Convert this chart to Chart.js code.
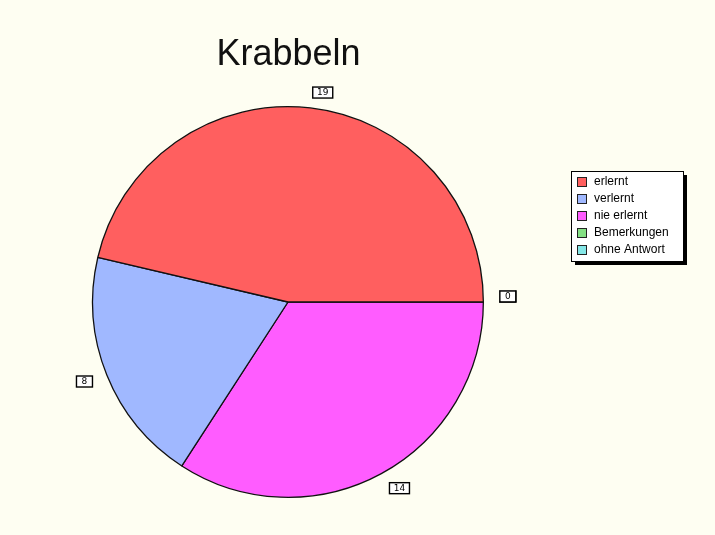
<!DOCTYPE html>
<html lang="de">
<head>
    <meta charset="UTF-8">
    <title>Krabbeln</title>
    <script src="https://cdn.jsdelivr.net/npm/chart.js"></script>
    <style>
        html, body { margin: 0; padding: 0; background: #fefef2; }
        #wrap { position: relative; width: 715px; height: 535px; }
    </style>
</head>
<body>
    <div id="wrap">
        <canvas id="pie" width="715" height="535"></canvas>
    </div>

    <script>
        // Answer categories in legend order
        const categories = ['erlernt', 'verlernt', 'nie erlernt', 'Bemerkungen', 'ohne Antwort'];
        const counts = [19, 8, 14, 0, 0];
        const colors = ['#ff5f5f', '#a0b8ff', '#ff5cff', '#84e084', '#84e6e6'];

        // slices run counter-clockwise from 3 o'clock, Chart.js draws clockwise,
        // so feed the data reversed
        const labelsCw = categories.slice().reverse();
        const countsCw = counts.slice().reverse();
        const colorsCw = colors.slice().reverse();

        const annotate = {
            id: 'annotate',
            afterDraw(chart) {
                const ctx = chart.ctx;
                ctx.save();

                // title
                ctx.fillStyle = '#111';
                ctx.font = '36px "Liberation Sans", Arial, sans-serif';
                ctx.textAlign = 'center';
                ctx.textBaseline = 'alphabetic';
                ctx.fillText('Krabbeln', 288.5, 65);

                // value boxes outside each slice
                const meta = chart.getDatasetMeta(0);
                ctx.font = '9px "DejaVu Sans", sans-serif';
                ctx.textBaseline = 'middle';
                meta.data.forEach((arc, i) => {
                    const mid = (arc.startAngle + arc.endAngle) / 2;
                    const r = arc.outerRadius + 16;
                    const ax = arc.x + Math.cos(mid) * r;
                    let ay = arc.y + Math.sin(mid) * r;
                    // boxes sitting on the horizontal axis ride just above it
                    if (Math.abs(Math.sin(mid)) < 0.05) ay -= 6;
                    const txt = String(countsCw[i]);
                    const w = txt.length > 1 ? 20 : 16;
                    const h = 11;
                    const left = Math.cos(mid) >= -0.01 ? ax : ax - w;
                    const top = ay - h / 2;
                    ctx.fillStyle = '#fff';
                    ctx.fillRect(left, top, w, h);
                    ctx.strokeStyle = '#000';
                    ctx.lineWidth = 1.4;
                    ctx.strokeRect(left + 0.5, top + 0.5, w, h);
                    ctx.fillStyle = '#000';
                    ctx.textAlign = 'center';
                    ctx.fillText(txt, left + w / 2 + 0.5, ay + 1);
                });

                // legend box with drop shadow
                const lx = 571, ly = 171, lw = 112, lh = 90;
                ctx.fillStyle = '#000';
                ctx.fillRect(lx + 4, ly + 4, lw, lh);
                ctx.fillStyle = '#fff';
                ctx.fillRect(lx, ly, lw, lh);
                ctx.strokeStyle = '#000';
                ctx.lineWidth = 1;
                ctx.strokeRect(lx + 0.5, ly + 0.5, lw, lh);

                ctx.font = '12px "Liberation Sans", Arial, sans-serif';
                ctx.textAlign = 'left';
                categories.forEach((name, i) => {
                    const y = 182 + i * 17;
                    ctx.fillStyle = colors[i];
                    ctx.fillRect(577, y - 5, 9, 9);
                    ctx.strokeStyle = '#222';
                    ctx.strokeRect(577.5, y - 4.5, 9, 9);
                    ctx.fillStyle = '#000';
                    ctx.fillText(name, 594, y);
                });

                ctx.restore();
            }
        };

        new Chart(document.getElementById('pie'), {
            type: 'pie',
            data: {
                labels: labelsCw,
                datasets: [{
                    data: countsCw,
                    backgroundColor: colorsCw,
                    borderColor: '#111',
                    borderWidth: 1.3
                }]
            },
            options: {
                responsive: false,
                animation: false,
                rotation: 90,
                layout: {
                    padding: { left: 92, right: 231, top: 106, bottom: 37 }
                },
                plugins: {
                    legend: { display: false },
                    tooltip: { enabled: false }
                }
            },
            plugins: [annotate]
        });
    </script>
</body>
</html>
